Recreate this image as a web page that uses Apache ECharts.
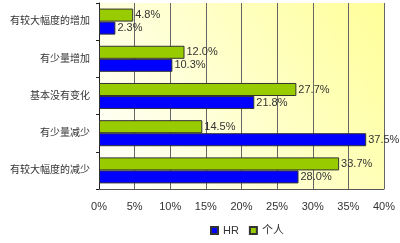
<!DOCTYPE html>
<html><head><meta charset="utf-8">
<script src="https://cdn.jsdelivr.net/npm/echarts@6/dist/echarts.min.js"></script>
<style>html,body{margin:0;padding:0;background:#fff}#c{width:400px;height:243px}</style>
</head><body><div id="c"></div>
<script>
const categories = ['有较大幅度的增加', '有少量增加', '基本没有变化', '有少量减少', '有较大幅度的减少'];
const hrValues = [2.3, 10.3, 21.8, 37.5, 28.0];
const personValues = [4.8, 12.0, 27.7, 14.5, 33.7];
const xTicks = [0, 5, 10, 15, 20, 25, 30, 35, 40];

const chart = echarts.init(document.getElementById('c'));
const font = 'Arial, "Liberation Sans", "Noto Sans CJK SC", sans-serif';
const lbl = {show: true, position: 'right', distance: 2, color: '#333', fontSize: 11, fontFamily: font, formatter: p => p.value.toFixed(1) + '%'};
chart.setOption({
  animation: false,
  textStyle: {fontFamily: font},
  grid: {left: 99, right: 16, top: 3, bottom: 54, show: true, borderWidth: 0,
    backgroundColor: {type: 'linear', x: 0, y: 1, x2: 1, y2: 0, colorStops: [{offset: 0, color: '#ffffff'}, {offset: 1, color: '#ffff99'}]}},
  legend: {bottom: 2, left: 205, itemWidth: 7, itemHeight: 7, itemGap: 10,
    textStyle: {fontSize: 11, color: '#333', fontFamily: font},
    data: [{name: 'HR', icon: 'rect'}, {name: '个人', icon: 'rect'}]},
  xAxis: {type: 'value', min: 0, max: 40, interval: 5,
    axisLine: {show: true, lineStyle: {color: '#555'}},
    axisTick: {show: false},
    splitLine: {show: true, lineStyle: {color: '#666', width: 1}},
    axisLabel: {color: '#333', fontSize: 11, margin: 12, formatter: v => xTicks.includes(v) ? v + '%' : ''}},
  yAxis: {type: 'category', data: categories, inverse: true,
    axisLine: {show: true, lineStyle: {color: '#222'}},
    axisTick: {show: true, length: 3, lineStyle: {color: '#222'}},
    axisLabel: {color: '#333', fontSize: 10, margin: 9}},
  series: [
    {name: '个人', type: 'bar', data: personValues, barGap: '0%', barCategoryGap: '30%',
      itemStyle: {color: '#99cc00', borderColor: '#333', borderWidth: 1}, label: lbl},
    {name: 'HR', type: 'bar', data: hrValues, barGap: '0%', barCategoryGap: '30%',
      itemStyle: {color: '#0000ff', borderColor: '#333', borderWidth: 1}, label: lbl}
  ]
});
</script></body></html>
